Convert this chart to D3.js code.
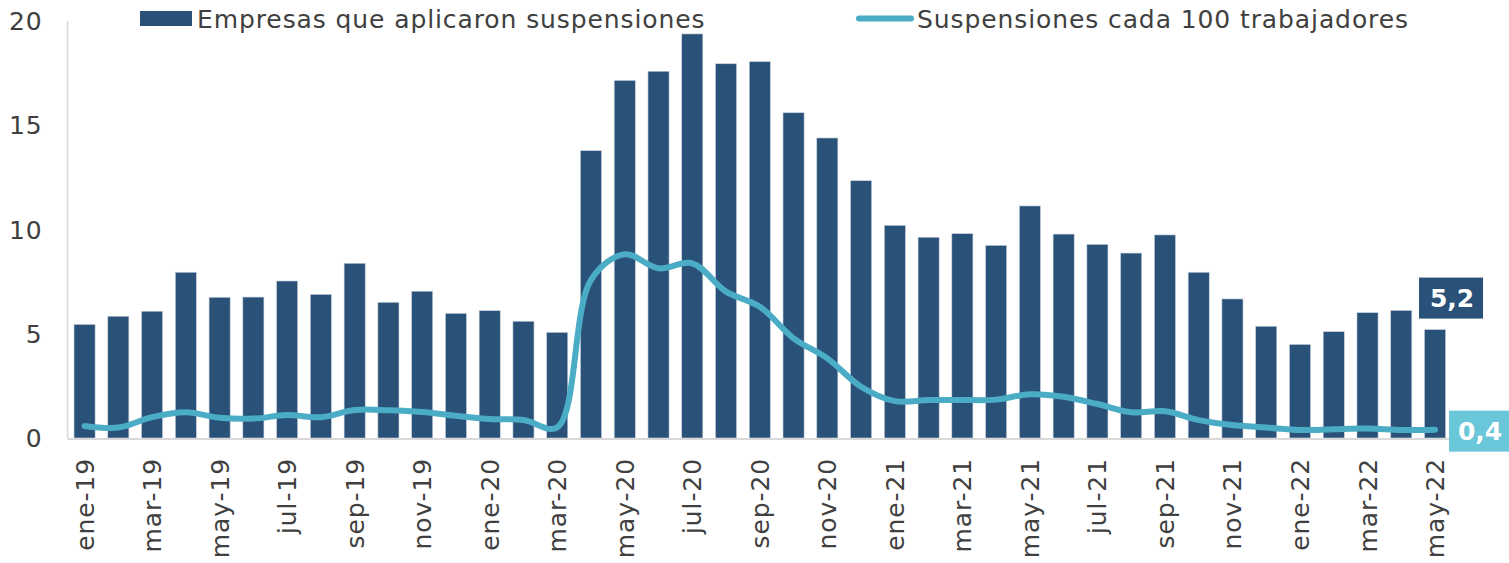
<!DOCTYPE html>
<html>
<head>
<meta charset="utf-8">
<script src="https://cdn.jsdelivr.net/npm/d3@7"></script>
<style>
  body { margin: 0; background: #fff; }
  text { font-family: Verdana, "DejaVu Sans", sans-serif; letter-spacing: 0.9px; }
</style>
</head>
<body>
<div id="chart-container"></div>
<script>
// Months (one per bar)
const months = [
  "ene-19","feb-19","mar-19","abr-19","may-19","jun-19","jul-19","ago-19","sep-19","oct-19","nov-19","dic-19",
  "ene-20","feb-20","mar-20","abr-20","may-20","jun-20","jul-20","ago-20","sep-20","oct-20","nov-20","dic-20",
  "ene-21","feb-21","mar-21","abr-21","may-21","jun-21","jul-21","ago-21","sep-21","oct-21","nov-21","dic-21",
  "ene-22","feb-22","mar-22","abr-22","may-22"
];

// Empresas que aplicaron suspensiones (%)
const empresas = [
  5.45, 5.84, 6.08, 7.95, 6.75, 6.76, 7.53, 6.89, 8.38, 6.51, 7.04, 5.98,
  6.11, 5.6, 5.07, 13.78, 17.15, 17.59, 19.38, 17.95, 18.05, 15.6, 14.39, 12.34,
  10.2, 9.63, 9.8, 9.24, 11.13, 9.78, 9.29, 8.87, 9.74, 7.95, 6.67, 5.36,
  4.49, 5.1, 6.01, 6.12, 5.2
];

// Suspensiones cada 100 trabajadores
const suspensiones = [
  0.58, 0.5, 1.0, 1.23, 0.97, 0.93, 1.1, 1.0, 1.34, 1.33, 1.25, 1.07,
  0.91, 0.86, 0.51, 7.58, 8.81, 8.14, 8.38, 7.02, 6.3, 4.78, 3.82, 2.46,
  1.77, 1.82, 1.82, 1.84, 2.1, 1.98, 1.63, 1.23, 1.28, 0.86, 0.62, 0.5,
  0.38, 0.42, 0.45, 0.38, 0.4
];

const yTicks = [0, 5, 10, 15, 20];
const seriesNames = ["Empresas que aplicaron suspensiones", "Suspensiones cada 100 trabajadores"];

const barColor = "#2a5279";
const lineColor = "#4bacc6";
const lastLineLabelColor = "#6ac6d9";
const textColor = "#404040";

const W = 1509, H = 563;
const margin = { top: 21, right: 57, bottom: 125, left: 67.6 };
const width = W - margin.left - margin.right;
const height = H - margin.top - margin.bottom;

const svg = d3.select("#chart-container")
  .append("svg")
  .attr("width", W)
  .attr("height", H);

const g = svg.append("g")
  .attr("transform", `translate(${margin.left},${margin.top})`);

const x = d3.scaleBand()
  .domain(months)
  .range([0, width])
  .paddingInner(0.375)
  .paddingOuter(0.19);

const y = d3.scaleLinear()
  .domain([0, 20])
  .range([height, 0]);

// Vertical axis line
g.append("line")
  .attr("x1", 0).attr("x2", 0)
  .attr("y1", 0).attr("y2", height)
  .attr("stroke", "#d9d9d9")
  .attr("stroke-width", 1.5);

// Y tick labels
g.selectAll(".ytick")
  .data(yTicks)
  .join("text")
  .attr("class", "ytick")
  .attr("x", -25)
  .attr("y", d => y(d))
  .attr("dy", "0.36em")
  .attr("text-anchor", "end")
  .attr("fill", textColor)
  .style("font-size", "25px")
  .text(d => d);

// Bars
g.selectAll(".bar")
  .data(empresas)
  .join("rect")
  .attr("class", "bar")
  .attr("x", (d, i) => x(months[i]))
  .attr("width", x.bandwidth())
  .attr("y", d => y(d))
  .attr("height", d => height - y(d))
  .attr("fill", barColor)
  .attr("stroke", "#c9d3df")
  .attr("stroke-width", 0.6);

// Baseline
g.append("line")
  .attr("x1", 0).attr("x2", width)
  .attr("y1", height + 1).attr("y2", height + 1)
  .attr("stroke", "#d9d9d9")
  .attr("stroke-width", 2);

// Smoothed line
const line = d3.line()
  .x((d, i) => x(months[i]) + x.bandwidth() / 2)
  .y(d => y(d))
  .curve(d3.curveCatmullRom.alpha(0.5));

g.append("path")
  .datum(suspensiones)
  .attr("fill", "none")
  .attr("stroke", lineColor)
  .attr("stroke-width", 6)
  .attr("stroke-linecap", "round")
  .attr("stroke-linejoin", "round")
  .attr("d", line);

// X tick labels (every other month), rotated
g.selectAll(".xtick")
  .data(months.filter((m, i) => i % 2 === 0))
  .join("text")
  .attr("class", "xtick")
  .attr("transform", d => `translate(${x(d) + x.bandwidth() / 2 + 9},${height + 20}) rotate(-90)`)
  .attr("text-anchor", "end")
  .attr("fill", textColor)
  .style("font-size", "25px")
  .text(d => d);

// Last-value labels
const last = months.length - 1;
const fmt = v => v.toFixed(1).replace(".", ",");

const barLabel = g.append("g")
  .attr("transform", `translate(${x(months[last]) + x.bandwidth() / 2 + 17},${y(empresas[last]) - 32})`);
barLabel.append("rect")
  .attr("x", -33).attr("y", -20)
  .attr("width", 64).attr("height", 41)
  .attr("fill", barColor);
barLabel.append("text")
  .attr("text-anchor", "middle")
  .attr("dy", "0.36em")
  .attr("fill", "#fff")
  .style("font-size", "25px")
  .style("font-weight", "bold")
  .style("letter-spacing", "0px")
  .text(fmt(empresas[last]));

const lineLabel = g.append("g")
  .attr("transform", `translate(${x(months[last]) + x.bandwidth() / 2 + 45},${y(suspensiones[last]) + 1})`);
lineLabel.append("rect")
  .attr("x", -31).attr("y", -20)
  .attr("width", 64).attr("height", 41)
  .attr("fill", lastLineLabelColor);
lineLabel.append("text")
  .attr("text-anchor", "middle")
  .attr("dy", "0.36em")
  .attr("fill", "#fff")
  .style("font-size", "25px")
  .style("font-weight", "bold")
  .style("letter-spacing", "0px")
  .text(fmt(suspensiones[last]));

// Legend
const legend = svg.append("g");
legend.append("rect")
  .attr("x", 140).attr("y", 11)
  .attr("width", 52).attr("height", 15)
  .attr("fill", barColor);
legend.append("text")
  .attr("x", 197).attr("y", 18.5)
  .attr("dy", "0.36em")
  .attr("fill", textColor)
  .style("font-size", "25px")
  .text(seriesNames[0]);

legend.append("line")
  .attr("x1", 859).attr("x2", 911)
  .attr("y1", 18.5).attr("y2", 18.5)
  .attr("stroke", lineColor)
  .attr("stroke-width", 6)
  .attr("stroke-linecap", "round");
legend.append("text")
  .attr("x", 917).attr("y", 18.5)
  .attr("dy", "0.36em")
  .attr("fill", textColor)
  .style("font-size", "25px")
  .text(seriesNames[1]);
</script>
</body>
</html>
